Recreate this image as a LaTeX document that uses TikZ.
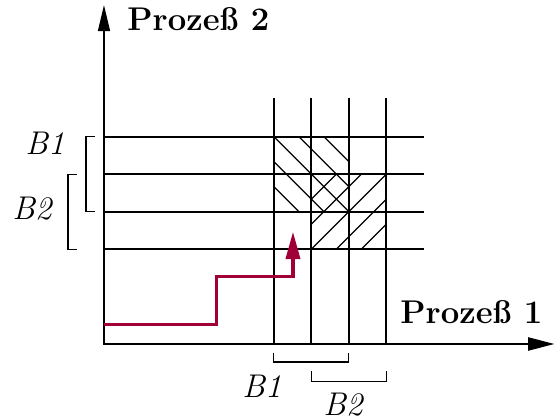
\documentclass[tikz,border=0pt]{standalone}
\usepackage{tikz}
\usetikzlibrary{arrows.meta}
\definecolor{wegrot}{RGB}{160,0,55}

\begin{document}
\begin{tikzpicture}[x=15.75pt, y=15.75pt,
    achse/.style={line width=0.8pt, {Triangle[length=11pt, width=5pt]}-{Triangle[length=11pt, width=5.5pt]}},
    gitter/.style={line width=0.75pt},
    klammer/.style={line width=0.5pt},
    schraffur/.style={line width=0.5pt},
    beschr/.style={font=\fontsize{13.8}{16}\selectfont, inner sep=0pt},
    weg/.style={wegrot, line width=1.3pt, -{Triangle[length=11.5pt, width=6pt]}}]
    \useasboundingbox (-2.773,-2) rectangle (12.027,9.173);
    \coordinate (O) at (0,0);
    \coordinate (xtip) at (12.01,0);
    \coordinate (ytip) at (0,9.04);
    % grid of the critical sections
    \foreach \i/\x in {1/4.53, 2/5.53, 3/6.53, 4/7.53} {
      \draw[gitter] (\x,0) coordinate (v\i) -- (\x,6.56);
    }
    \foreach \j/\y in {1/5.53, 2/4.53, 3/3.53, 4/2.53} {
      \draw[gitter] (0,\y) coordinate (h\j) -- (8.53,\y);
    }
    % B1 x B1
    \begin{scope}
      \clip (4.53,3.53) rectangle (6.53,5.53);
      \foreach \k in {-2,...,2}
        \draw[schraffur] ({3.53+(\k)*2/3},6.53) -- ++(4,-4);
    \end{scope}
    % B2 x B2
    \begin{scope}
      \clip (5.53,2.53) rectangle (7.53,4.53);
      \foreach \k in {-2,...,2}
        \draw[schraffur] ({4.53+(\k)*2/3},1.53) -- ++(4,4);
    \end{scope}
    \draw[achse] (ytip) -- (O) -- (xtip);
    \node[beschr, anchor=base west] (p2) at (0.613,8.347) {\bfseries Proze\ss{} 2};
    \node[beschr, anchor=base west] (p1) at (7.893,0.552) {\bfseries Proze\ss{} 1};
    % brackets on the axes
    \draw[klammer] (-0.24,5.53) -| (-0.48,3.53) -- (-0.24,3.53);
    \draw[klammer] (-0.72,4.53) -| (-0.96,2.53) -- (-0.72,2.53);
    \draw[klammer] (4.53,-0.24) |- (6.53,-0.48) -- (6.53,-0.24);
    \draw[klammer] (5.53,-0.72) |- (7.53,-0.99) -- (7.53,-0.72);
    \node[beschr, anchor=base] (yb1) at (-1.573,5.04) {\itshape B1};
    \node[beschr, anchor=base] (yb2) at (-1.92,3.307) {\itshape B2};
    \node[beschr, anchor=base] (xb1) at (4.213,-1.44) {\itshape B1};
    \node[beschr, anchor=base] (xb2) at (6.373,-1.9) {\itshape B2};
    % execution path
    \coordinate (start) at (0,0.52);
    \coordinate (ziel) at (5.04,2.99);
    \draw[weg] (start) -| (3.01,1.79) -| (ziel);
\end{tikzpicture}
\end{document}
